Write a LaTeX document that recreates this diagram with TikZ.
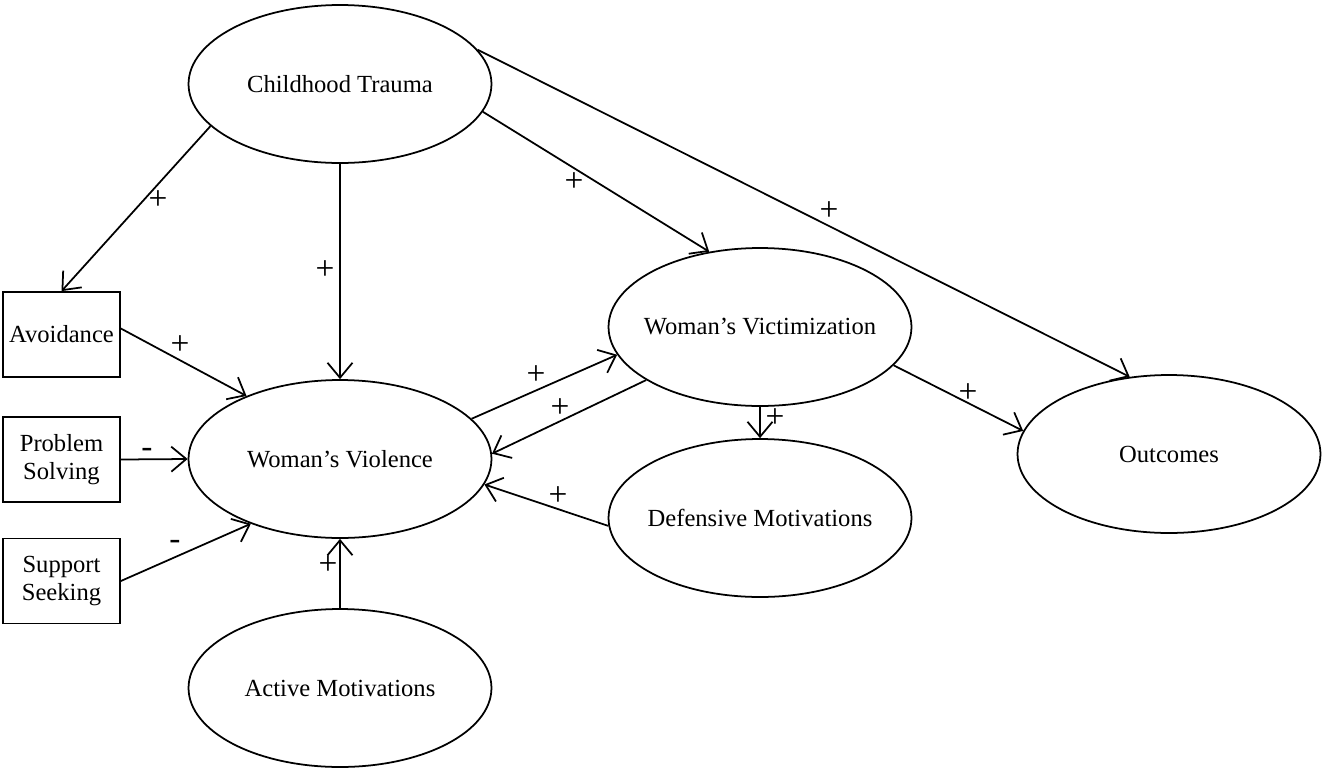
\documentclass[tikz,border=0pt]{standalone}
\usepackage{fontspec}
\setmainfont{Liberation Serif}
\usetikzlibrary{shapes.geometric,arrows.meta}
\begin{document}
\begin{tikzpicture}[x=0.02cm,y=-0.02cm,
  every node/.style={font=\fontsize{14}{16}\selectfont},
  oval/.style={draw,ellipse,line width=1pt,inner sep=0pt,minimum width=6.06cm,minimum height=3.16cm},
  box/.style={draw,rectangle,line width=1pt,inner sep=0pt,minimum width=2.34cm,minimum height=1.7cm,align=center},
  conn/.style={line width=1pt,-{Straight Barb[length=3mm,width=5mm,line width=1pt]}},
  sign/.style={inner sep=0pt,font=\fontsize{19}{20}\selectfont}]
\useasboundingbox (0,0) rectangle (1322,768);
\node[oval] (ct) at (340,84) {\makebox[0pt]{Childhood Trauma}};
\node[oval] (vi) at (340,459) {\makebox[0pt]{Woman’s Violence}};
\node[oval] (vic) at (760,327) {\makebox[0pt]{Woman’s Victimization}};
\node[oval] (def) at (760,518) {\makebox[0pt]{Defensive Motivations}};
\node[oval] (out) at (1169,454) {\makebox[0pt]{Outcomes}};
\node[oval] (act) at (340,688) {\makebox[0pt]{Active Motivations}};
\node[box] (av) at (61.5,334.5) {Avoidance};
\node[box] (ps) at (61.5,459.5) {Problem\\Solving};
\node[box] (ss) at (61.5,581) {Support\\Seeking};
\draw[conn] (ct.198) -- (av.north);
\draw[conn] (ct.south) -- (vi.north);
\draw[conn] (ct.-11) -- (vic.124);
\draw[conn] (ct.14) -- (out.117);
\draw[conn] ([yshift=0.12cm]av.east) -- (vi.146);
\draw[conn] (ps.east) -- (vi.west);
\draw[conn] (ss.east) -- (vi.216);
\draw[conn] (act.north) -- (vi.south);
\draw[conn] (vi.17) -- (vic.191);
\draw[conn] (vic.205) -- (vi.2);
\draw[conn] (def.183) -- (vi.-10);
\draw[conn] (vic.south) -- (def.north);
\draw[conn] (vic.-16) -- (out.171);
\node[sign] (l1) at (158,200) {+};
\node[sign] (l2) at (325,270) {+};
\node[sign] (l3) at (574,182) {+};
\node[sign] (l4) at (829,211) {+};
\node[sign] (l5) at (180,345) {+};
\node[sign] (l6) at (147,453) {-};
\node[sign] (l7) at (175,545) {-};
\node[sign] (l8) at (328,565) {+};
\node[sign] (l9) at (536,375) {+};
\node[sign] (l10) at (560,408) {+};
\node[sign] (l11) at (558,496) {+};
\node[sign] (l12) at (775,418) {+};
\node[sign] (l13) at (968,393) {+};
\end{tikzpicture}
\end{document}
